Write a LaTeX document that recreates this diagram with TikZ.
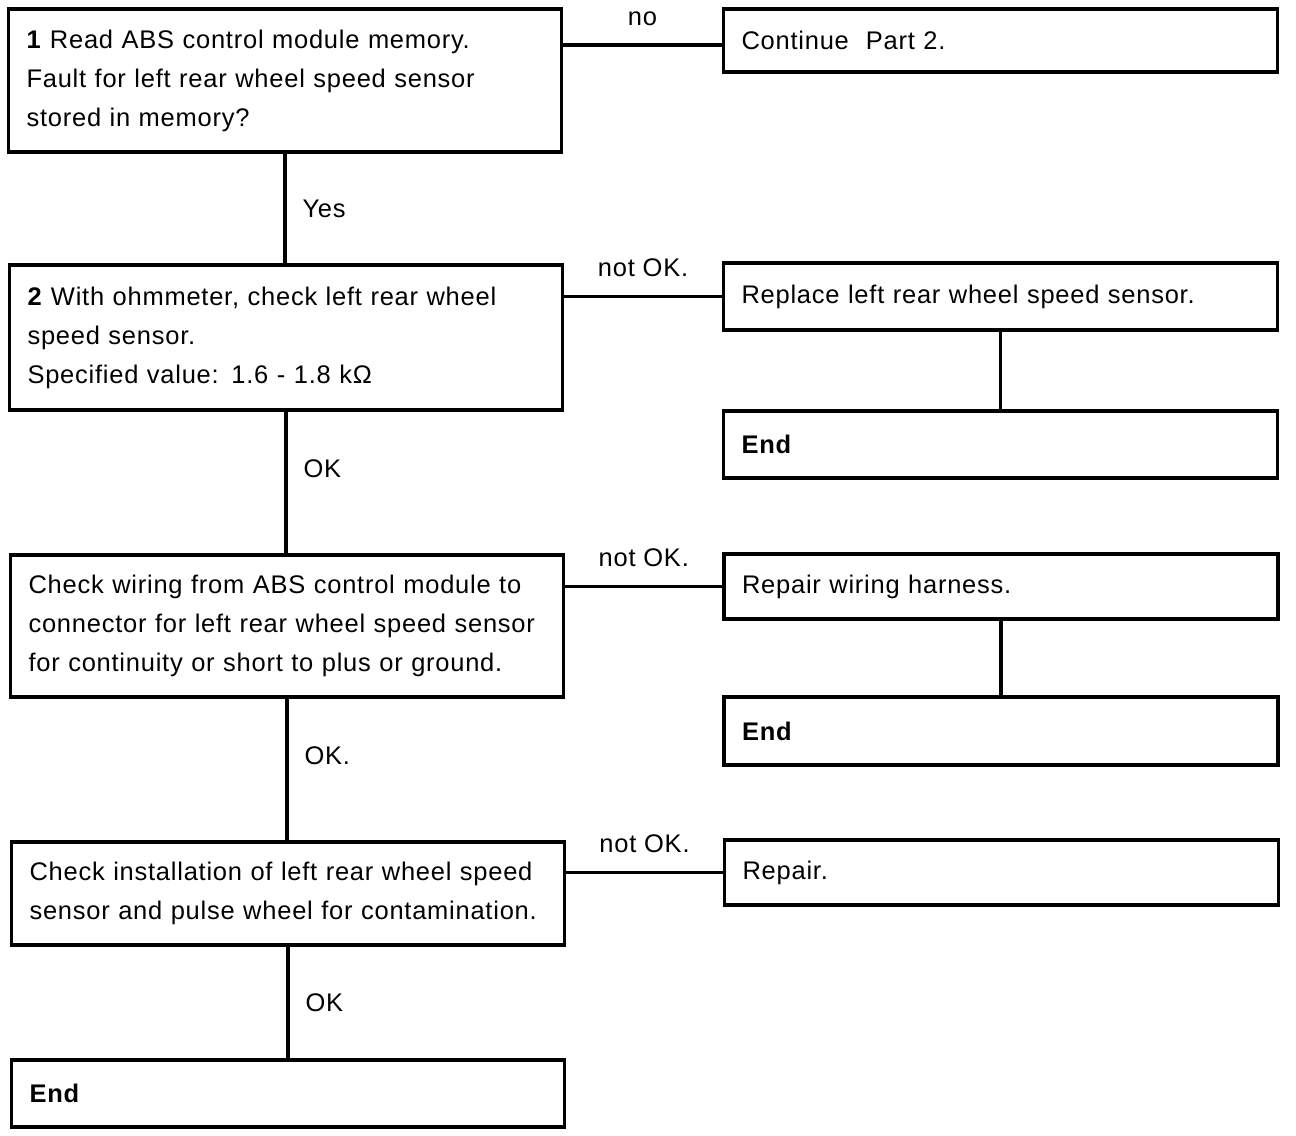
\documentclass[tikz,border=0pt]{standalone}
\usepackage{fontspec}
\setmainfont[LetterSpace=3]{Liberation Sans}
\usepackage{tikz}

\tikzset{
    chkbox/.style={draw, line width=1.9pt, rectangle, inner xsep=0.36cm, inner ysep=0pt,
        align=left, font=\fontsize{14.5}{22.2}\selectfont},
    lbox/.style={chkbox, text width=10.34cm},
    rbox/.style={chkbox, text width=10.36cm},
    wire/.style={line width=1.9pt},
    lbl/.style={font=\fontsize{14.5}{22}\selectfont}
}

\begin{document}
\begin{tikzpicture}[x=0.02cm, y=-0.02cm]
    \useasboundingbox (0,0) rectangle (1296,1136);

    % Left column
    \node[lbox, minimum height=2.86cm] (read) at (285,80.5)
        {\textbf{1} Read ABS control module memory.\\Fault for left rear wheel speed sensor\\stored in memory?};
    \node[lbox, minimum height=2.9cm] (ohm) at (286,337.5)
        {\textbf{2} With ohmmeter, check left rear wheel\\speed sensor.\\Specified value: 1.6 - 1.8 kΩ};
    \node[lbox, minimum height=2.84cm] (wiring) at (287,626)
        {Check wiring from ABS control module to\\connector for left rear wheel speed sensor\\for continuity or short to plus or ground.};
    \node[lbox, minimum height=2.06cm] (install) at (288,893.5)
        {Check installation of left rear wheel speed\\sensor and pulse wheel for contamination.};
    \node[lbox, minimum height=1.34cm] (endc) at (288,1093.5) {\textbf{End}};

    % Right column
    \node[rbox, minimum height=1.26cm] (cont) at (1000.5,40.5) {Continue\ \ Part 2.};
    \node[rbox, minimum height=1.34cm] (repl) at (1000.5,296.5) {Replace left rear wheel speed sensor.};
    \node[rbox, minimum height=1.34cm] (enda) at (1000.5,444.5) {\textbf{End}};
    \node[rbox, minimum height=1.30cm] (harn) at (1001,586.5) {Repair wiring harness.};
    \node[rbox, minimum height=1.36cm] (endb) at (1001,731) {\textbf{End}};
    \node[rbox, minimum height=1.30cm] (rep) at (1001.5,872.5) {Repair.};

    % Yes / OK branches
    \draw[wire] (read.south) -- node[lbl, right=0.2cm] {Yes} (read.south |- ohm.north);
    \draw[wire] (ohm.south) -- node[lbl, right=0.2cm, pos=0.4] {OK} (ohm.south |- wiring.north);
    \draw[wire] (wiring.south) -- node[lbl, right=0.2cm, pos=0.4] {OK.} (wiring.south |- install.north);
    \draw[wire] (install.south) -- node[lbl, right=0.2cm] {OK} (install.south |- endc.north);

    % no / not OK branches
    \draw[wire] ([yshift=-0.09cm]cont.west -| read.east) -- node[lbl, above=0.24cm] {no} ([yshift=-0.09cm]cont.west);
    \draw[wire] (ohm.east |- repl.west) -- node[lbl, above=0.24cm] {not OK.} (repl.west);
    \draw[wire] (wiring.east |- harn.west) -- node[lbl, above=0.24cm] {not OK.} (harn.west);
    \draw[wire] (install.east |- rep.west) -- node[lbl, above=0.24cm] {not OK.} (rep.west);

    % Down to End
    \draw[wire] (repl.south) -- (enda.north);
    \draw[wire] (harn.south) -- (endb.north);
\end{tikzpicture}
\end{document}
